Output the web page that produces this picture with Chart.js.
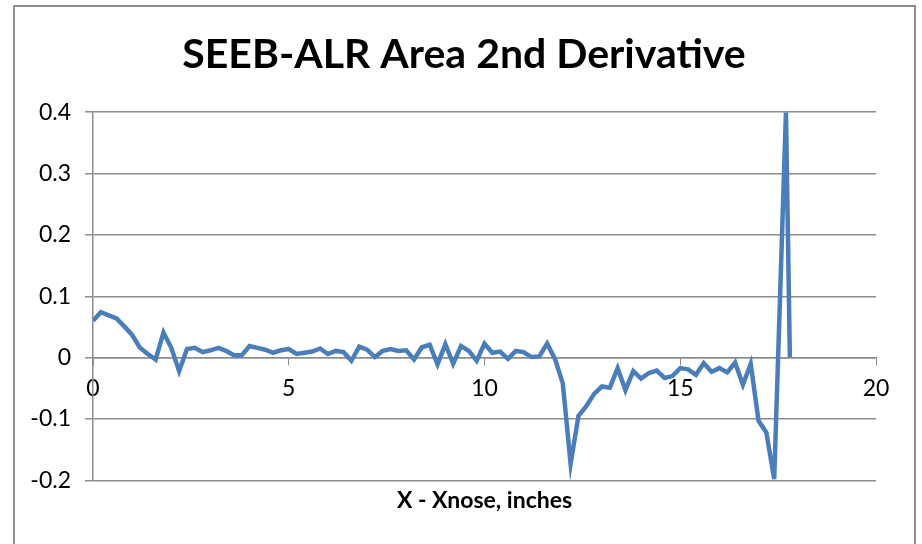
<!DOCTYPE html>
<html>
<head>
<meta charset="utf-8">
<title>SEEB-ALR Area 2nd Derivative</title>
<script src="https://cdn.jsdelivr.net/npm/chart.js@4.4.1/dist/chart.umd.min.js"></script>
<style>
  html, body { margin: 0; padding: 0; background: #fff; overflow: hidden; }
  #frame {
    position: absolute; left: 13px; top: 5px; width: 903px; height: 600px;
    border: 2px solid #8e8e8e; box-sizing: border-box;
  }
  #wrap { position: absolute; left: 0; top: 0; width: 922px; height: 544px; }
</style>
</head>
<body>
<div id="frame"></div>
<div id="wrap"><canvas id="myChart" width="922" height="544"></canvas></div>
<script>
// x position (inches from nose) and the area 2nd derivative
var xNose = [0, 0.2, 0.4, 0.6, 0.8, 1.0, 1.2, 1.4, 1.6, 1.8,
    2.0, 2.2, 2.4, 2.6, 2.8, 3.0, 3.2, 3.4, 3.6, 3.8,
    4.0, 4.2, 4.4, 4.6, 4.8, 5.0, 5.2, 5.4, 5.6, 5.8,
    6.0, 6.2, 6.4, 6.6, 6.8, 7.0, 7.2, 7.4, 7.6, 7.8,
    8.0, 8.2, 8.4, 8.6, 8.8, 9.0, 9.2, 9.4, 9.6, 9.8,
    10.0, 10.2, 10.4, 10.6, 10.8, 11.0, 11.2, 11.4, 11.6, 11.8,
    12.0, 12.2, 12.4, 12.6, 12.8, 13.0, 13.2, 13.4, 13.6, 13.8,
    14.0, 14.2, 14.4, 14.6, 14.8, 15.0, 15.2, 15.4, 15.6, 15.8,
    16.0, 16.2, 16.4, 16.6, 16.8, 17.0, 17.2, 17.4, 17.7, 17.8];
var areaD2 = [0.060, 0.074, 0.069, 0.064, 0.051, 0.037, 0.016, 0.006, -0.003, 0.041,
    0.016, -0.022, 0.014, 0.016, 0.009, 0.012, 0.016, 0.011, 0.004, 0.004,
    0.019, 0.016, 0.013, 0.008, 0.012, 0.014, 0.006, 0.008, 0.010, 0.015,
    0.006, 0.011, 0.009, -0.005, 0.018, 0.013, 0.001, 0.011, 0.014, 0.011,
    0.012, -0.003, 0.017, 0.021, -0.011, 0.022, -0.010, 0.019, 0.011, -0.005,
    0.023, 0.008, 0.010, -0.002, 0.011, 0.009, 0.001, 0.002, 0.023, -0.002,
    -0.042, -0.173, -0.095, -0.079, -0.059, -0.047, -0.049, -0.017, -0.053, -0.022,
    -0.034, -0.025, -0.021, -0.033, -0.030, -0.017, -0.019, -0.028, -0.009, -0.023,
    -0.017, -0.024, -0.008, -0.044, -0.010, -0.103, -0.122, -0.198, 0.400, 0.001];

var xMin = 0, xMax = 20, xStep = 5;
var yMin = -0.2, yMax = 0.4, yStep = 0.1;

var chartTitle = "SEEB-ALR Area 2nd Derivative";
var xTitle = "X - Xnose, inches";

var gridGray = '#8c8c8c';
var lineBlue = '#4a7ebb';

var points = [];
for (var i = 0; i < xNose.length; i++) {
    points.push({ x: xNose[i], y: areaD2[i] });
}

var ctx = document.getElementById('myChart').getContext('2d');
var chart = new Chart(ctx, {
    type: 'scatter',
    data: {
        datasets: [{
            label: 'Area 2nd Derivative',
            data: points,
            showLine: true,
            borderColor: lineBlue,
            backgroundColor: lineBlue,
            borderWidth: 4.5,
            pointRadius: 0,
            tension: 0
        }]
    },
    options: {
        responsive: false,
        animation: false,
        layout: { padding: { left: 17, right: 11, top: 0, bottom: 30 } },
        plugins: {
            legend: { display: false },
            tooltip: { enabled: false },
            title: {
                display: true,
                text: chartTitle,
                color: '#000',
                font: { family: 'Lato', size: 41, weight: 'bold' },
                padding: { top: 30, bottom: 33 }
            }
        },
        scales: {
            x: {
                type: 'linear',
                position: { y: 0 },
                min: xMin,
                max: xMax,
                grid: { drawOnChartArea: false, drawTicks: true, tickLength: 7, color: gridGray },
                border: { display: true, color: gridGray, width: 1.5 },
                ticks: {
                    stepSize: xStep,
                    color: '#000',
                    padding: 10,
                    maxRotation: 0,
                    font: { family: 'Lato', size: 23 }
                }
            },
            xTitleAxis: {
                type: 'linear',
                position: 'bottom',
                axis: 'x',
                min: xMin,
                max: xMax,
                grid: { display: false, drawTicks: false },
                border: { display: false },
                ticks: { display: false },
                title: {
                    display: true,
                    text: xTitle,
                    color: '#000',
                    font: { family: 'Lato', size: 23, weight: 'bold' },
                    padding: { top: 6, bottom: 0 }
                }
            },
            y: {
                type: 'linear',
                min: yMin,
                max: yMax,
                grid: { color: gridGray, lineWidth: 1.5, tickLength: 8 },
                border: { display: true, color: gridGray, width: 1.5 },
                ticks: {
                    stepSize: yStep,
                    color: '#000',
                    padding: 14,
                    font: { family: 'Lato', size: 23 },
                    callback: function (v) { return String(Math.round(v * 10) / 10); }
                },
                afterFit: function (scale) { scale.width = 76; }
            },
            // empty right-hand axis, only keeps the plot's right margin
            ySpacer: {
                type: 'linear',
                position: 'right',
                axis: 'y',
                min: yMin,
                max: yMax,
                grid: { display: false, drawTicks: false },
                border: { display: false },
                ticks: { display: false },
                afterFit: function (scale) { scale.width = 35; }
            }
        }
    }
});
</script>
</body>
</html>
